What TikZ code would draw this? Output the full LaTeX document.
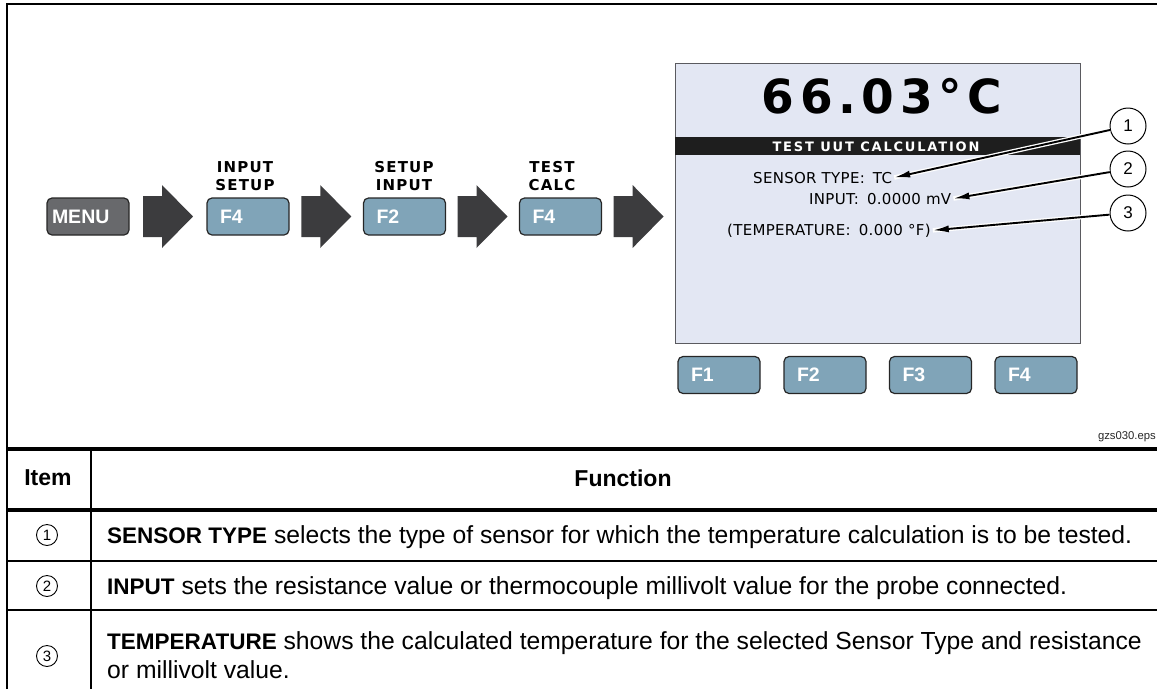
\documentclass[tikz,border=0pt]{standalone}
\usepackage{fontspec}
\setmainfont{Liberation Sans}
\newfontfamily\lblfont[LetterSpace=8]{DejaVu Sans}
\newfontfamily\bigfont[LetterSpace=12]{DejaVu Sans}
\newfontfamily\barfont[LetterSpace=14]{DejaVu Sans}
\newfontfamily\scrfont[LetterSpace=2]{DejaVu Sans}
\usetikzlibrary{arrows.meta,calc}
\definecolor{btnblue}{RGB}{128,164,184}
\definecolor{menugray}{RGB}{104,105,108}
\definecolor{arrowgray}{RGB}{60,60,62}
\definecolor{screenbg}{RGB}{227,231,243}
\definecolor{screenline}{RGB}{90,90,95}
\definecolor{barblack}{RGB}{30,30,30}
\newcommand{\bld}[1]{{\bfseries\fontsize{22.5}{22.5}\selectfont #1}}
\begin{document}
\begin{tikzpicture}[x=1pt,y=-1pt,
  key/.style={draw=black!85, line width=1.2pt, rounded corners=5pt, fill=btnblue,
    text=white, font=\bfseries\fontsize{19.5}{19.5}\selectfont, minimum height=37pt,
    text width=56pt, inner xsep=13pt, inner ysep=0pt, align=left},
  menukey/.style={key, fill=menugray, text width=72pt, inner xsep=5pt},
  lbl/.style={font=\lblfont\bfseries\fontsize{15}{18.3}\selectfont, align=center, inner sep=0pt},
  scr/.style={font=\scrfont\fontsize{15}{15}\selectfont, inner sep=2pt},
  num/.style={circle, draw, line width=1pt, minimum size=36pt, inner sep=0pt, fill=white,
    font=\fontsize{17}{17}\selectfont},
  leader/.style={line width=1.9pt, -{Latex[length=16pt,width=7pt]},
    preaction={draw=white, line width=4.5pt, -}},
  tnum/.style={circle, draw, line width=0.9pt, minimum size=21pt, inner sep=0pt,
    font=\fontsize{15}{15}\selectfont},
  body/.style={font=\fontsize{24.7}{24.7}\selectfont, inner sep=0pt, anchor=base west},
  head/.style={font=\bfseries\fontsize{23}{23}\selectfont, inner sep=0pt},
  blockarrow/.pic={\fill[arrowgray] (-25,-20.5) -- (-6,-20.5) -- (-6,-31.5) -- (25,0)
    -- (-6,31.5) -- (-6,20.5) -- (-25,20.5) -- cycle;}
]
\useasboundingbox (0,0) rectangle (1157,689);

% frame and table rules
\draw[line width=2.5pt, line join=miter] (6.8,689) -- (6.8,4) -- (1157,4);
\draw[line width=3.3pt] (6.8,449) -- (1157,449);
\draw[line width=3.3pt] (6.8,510) -- (1157,510);
\draw[line width=1.8pt] (6.8,561) -- (1157,561);
\draw[line width=1.8pt] (6.8,610) -- (1157,610);
\draw[line width=2pt] (90.5,449) -- (90.5,689);

% key sequence
\node[menukey] (menu) at (88,216.5) {MENU};
\node[key] (b1) at (248,216.5) {F4};
\node[key] (b2) at (404.5,216.5) {F2};
\node[key] (b3) at (560.5,216.5) {F4};
\node[lbl] (l1) at (245,176) {INPUT\\SETUP};
\node[lbl] (l2) at (404,176) {SETUP\\INPUT};
\node[lbl] (l3) at (552,176) {TEST\\CALC};

% screen
\node[draw=screenline, line width=1.2pt, fill=screenbg, minimum width=405pt,
  minimum height=280pt, anchor=north west, inner sep=0pt] (screen) at (675,63) {};
\node[fill=barblack, minimum width=405pt, minimum height=18pt, inner sep=0pt,
  anchor=north west] (bar) at (675,137) {};
\node[text=white, font=\barfont\bfseries\fontsize{13}{13}\selectfont, inner sep=0pt]
  (bartext) at (876,146.5) {TEST UUT CALCULATION};
\node[font=\bigfont\bfseries\fontsize{47}{47}\selectfont, inner sep=0pt] (temp) at (882,96) {66.03°C};

\coordinate (m1) at ($(menu.east)!0.5!(b1.west)$);
\coordinate (m2) at ($(b1.east)!0.5!(b2.west)$);
\coordinate (m3) at ($(b2.east)!0.5!(b3.west)$);
\coordinate (m4) at ($(b3.east)!0.5!(screen.west|-b3.east)$);
\pic at (m1) {blockarrow};
\pic at (m2) {blockarrow};
\pic at (m3) {blockarrow};
\pic at (m4) {blockarrow};

\node[scr, anchor=base west] (t1) at (751,183) {SENSOR TYPE:\hspace{3pt} TC};
\node[scr, anchor=base west] (t2) at (807,204) {INPUT:\hspace{3pt} 0.0000 mV};
\node[scr, anchor=base west] (t3) at (725,235) {(TEMPERATURE:\hspace{3pt} 0.000 °F)};

\node[num] (c1) at (1128,126) {1};
\node[num] (c2) at (1128,169) {2};
\node[num] (c3) at (1128,213) {3};
\draw[leader] (c1) -- (t1.east);
\draw[leader] (c2) -- (t2.east);
\draw[leader] (c3) -- (t3.east);

\node[key] (f1) at (719,375) {F1};
\node[key] (f2) at (825,375) {F2};
\node[key] (f3) at (930.5,375) {F3};
\node[key] (f4) at (1036,375) {F4};

\node[anchor=base east, inner sep=0pt, font=\fontsize{11.3}{12}\selectfont, text=black!85]
  (eps) at (1156,439) {gzs030.eps};

% table
\node[head] (hitem) at (48,478) {Item};
\node[head] (hfunc) at (623,478) {Function};
\node[tnum] (n1) at (47,535) {1};
\node[tnum] (n2) at (47,586) {2};
\node[tnum] (n3) at (47,656) {3};
\node[body] (r1) at (107,543) {\bld{SENSOR TYPE} selects the type of sensor for which the temperature calculation is to be tested.};
\node[body] (r2) at (107,594) {\bld{INPUT} sets the resistance value or thermocouple millivolt value for the probe connected.};
\node[body] (r3) at (107,649) {\bld{TEMPERATURE} shows the calculated temperature for the selected Sensor Type and resistance};
\node[body] (r3b) at (107,678) {or millivolt value.};
\end{tikzpicture}
\end{document}
